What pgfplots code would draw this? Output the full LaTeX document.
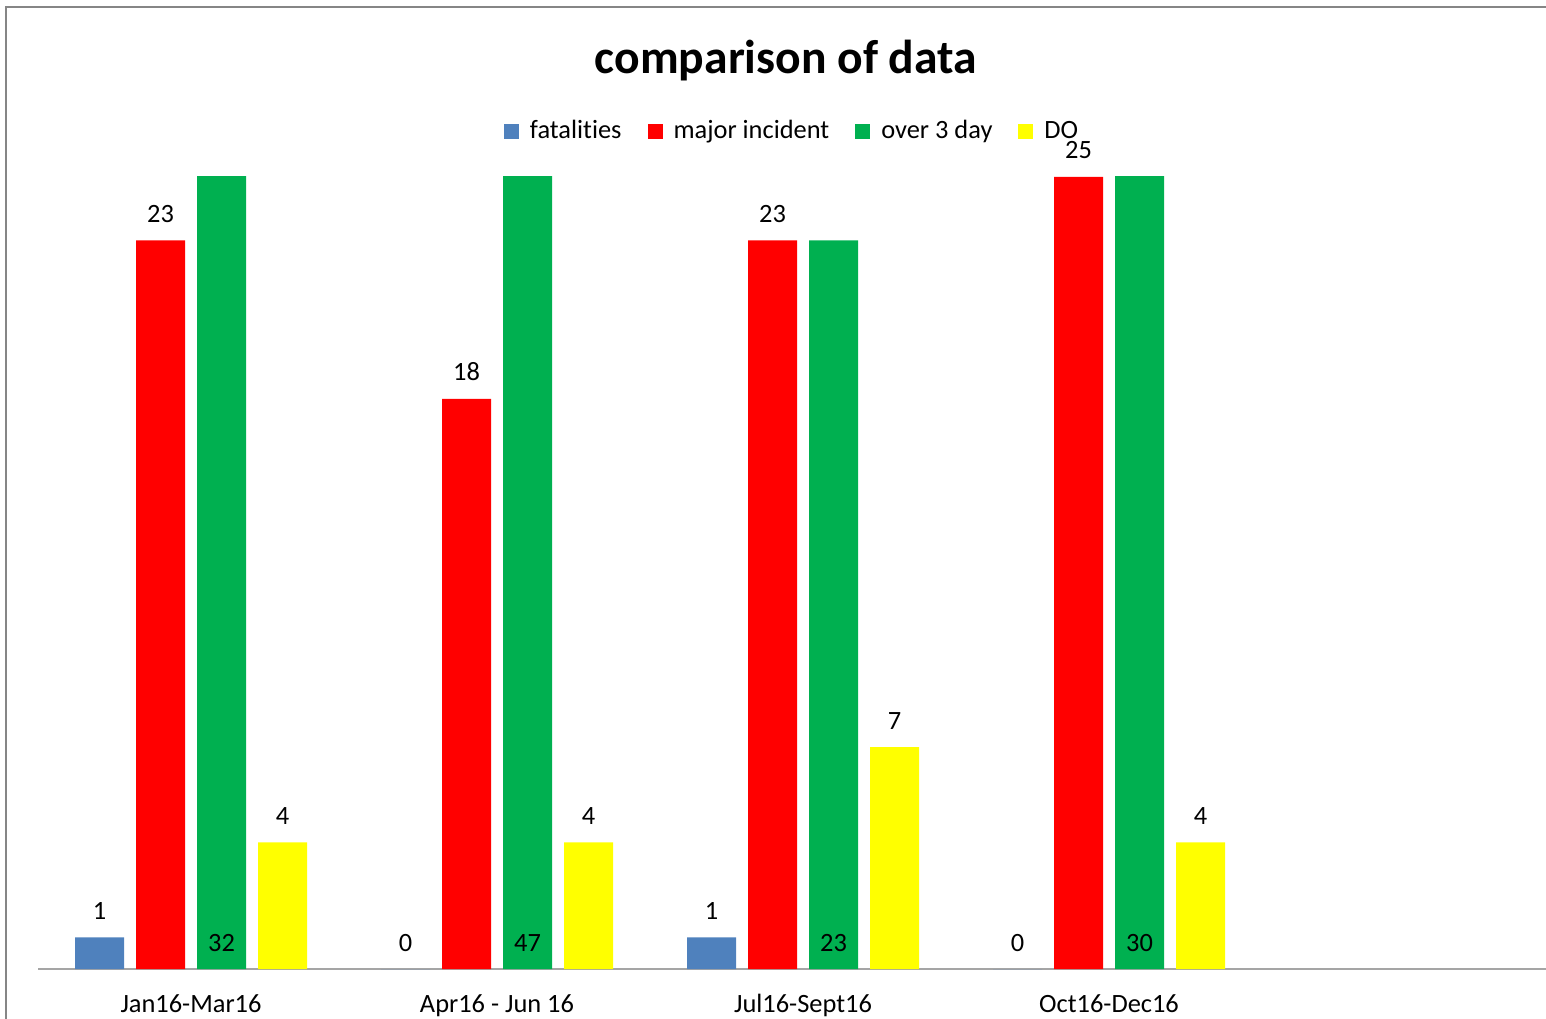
\documentclass[border=0pt]{standalone}
\usepackage{fontspec}
\setmainfont{Carlito}[Ligatures=NoCommon]
\usepackage{pgfplots}
\pgfplotsset{compat=1.18}

\definecolor{cfat}{RGB}{79,129,189}
\definecolor{cmaj}{RGB}{255,0,0}
\definecolor{cover}{RGB}{0,176,80}
\definecolor{cdo}{RGB}{255,255,0}
\definecolor{cframe}{RGB}{134,134,134}
\definecolor{caxis}{RGB}{165,165,165}
\newcommand{\lbl}{\fontsize{13.2}{15.8}\selectfont}

\begin{document}
\begin{tikzpicture}[x=1pt,y=1pt]
\useasboundingbox (0,0) rectangle (773,509);
\clip (0,0) rectangle (773,509);
% chart frame (cut off at right and bottom)
\draw[line width=1pt, cframe] (3,-10) -- (3,505.5) -- (800,505.5);
\begin{axis}[
    at={(19pt,24.5pt)}, anchor=south west,
    scale only axis, width=765pt, height=396pt,
    xmin=-0.5, xmax=4.5, ymin=0, ymax=25,
    axis y line=none, axis x line*=bottom,
    x axis line style={draw=caxis, line width=1pt, -},
    xtick={0,1,2,3},
    xticklabels={Jan16-Mar16, Apr16 - Jun 16, Jul16-Sept16, Oct16-Dec16},
    major tick length=0pt,
    xticklabel style={font=\lbl, inner sep=0pt, yshift=-12.5pt},
    ybar, bar width=24.5pt,
    /pgf/number format/assume math mode=true,
    every node near coord/.append style={font=\lbl, inner sep=0pt, anchor=base, yshift=9pt, text=black},
    clip mode=individual,
    legend columns=4,
    legend style={at={(0.4935,1.058)}, anchor=center, draw=none, fill=none,
        font=\lbl, inner sep=0pt,
        /tikz/every even column/.append style={column sep=11pt}},
    legend image code/.code={\fill[#1,draw=none] (0pt,-3.75pt) rectangle (7.5pt,3.75pt); \path (11pt,0pt);},
]
\addplot[fill=cfat, draw=none, bar shift=-45.75pt, nodes near coords]
    coordinates {(0,1) (1,0) (2,1) (3,0)};
\addplot[fill=cmaj, draw=none, bar shift=-15.25pt, nodes near coords]
    coordinates {(0,23) (1,18) (2,23) (3,25)};
\addplot[fill=cover, draw=none, bar shift=15.25pt]
    coordinates {(0,32) (1,47) (2,23) (3,30)};
\addplot[fill=cdo, draw=none, bar shift=45.75pt, nodes near coords]
    coordinates {(0,4) (1,4) (2,7) (3,4)};
% labels of the green bars sit at the base
\addplot[draw=none, fill=none, bar shift=15.25pt, forget plot,
    nodes near coords, point meta=explicit symbolic]
    coordinates {(0,0)[32] (1,0)[47] (2,0)[23] (3,0)[30]};
\legend{fatalities, major incident, over 3 day, DO}
\end{axis}
\node[font=\bfseries\fontsize{23.8}{28}\selectfont] at (393,478.5) {comparison of data};
\end{tikzpicture}
\end{document}
